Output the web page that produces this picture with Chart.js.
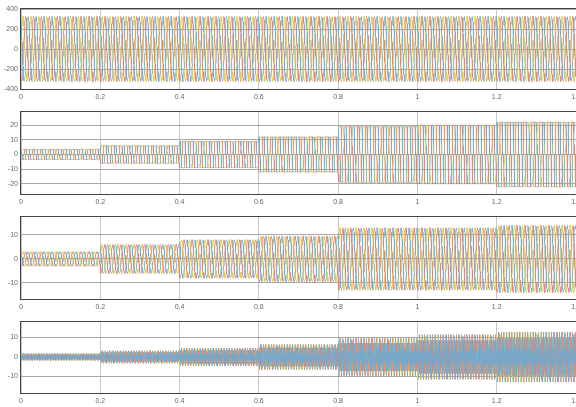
<!DOCTYPE html>
<html>
<head>
<meta charset="utf-8">
<script src="https://cdn.jsdelivr.net/npm/chart.js@4"></script>
<style>
  body { margin: 0; background: #fff; width: 576px; height: 407px; overflow: hidden; position: relative; }
  canvas { position: absolute; left: 0; }
</style>
</head>
<body>
<canvas id="c1" width="576"></canvas>
<canvas id="c2" width="576"></canvas>
<canvas id="c3" width="576"></canvas>
<canvas id="c4" width="576"></canvas>
<script>
// values
const freq = 50;                                   // ~10 cycles per 0.2 s
const segEdges = [0, 0.2, 0.4, 0.6, 0.8, 1.0, 1.2, 1.4];
const voltAmp = [325, 325, 325, 325, 325, 325, 325];
const loadAmp = [3.5, 6, 9, 12, 19, 20, 22];
const srcAmp = [3, 6, 8, 9.5, 13, 13, 14];
const compAmp = [2, 3.5, 5, 7, 10.5, 12.5, 14];
const phaseDeg = [120, -120, 0];
const phaseColors = ["rgba(95,175,222,0.6)", "rgba(232,128,120,0.7)", "rgba(230,208,70,0.8)"];

const xTicks = [0, 0.2, 0.4, 0.6, 0.8, 1, 1.2, 1.4];
const yTicks1 = [-400, -200, 0, 200, 400];
const yTicks2 = [-20, -10, 0, 10, 20];
const yTicks3 = [-10, 0, 10];
const yTicks4 = [-10, 0, 10];

// unit waveform shapes
const sine = (th) => Math.sin(th);
const blockRamp = (th, r) => {
  // 120 degree conduction blocks, as drawn by a rectifier load
  let a = ((th * 180) / Math.PI) % 360;
  if (a < 0) a += 360;
  let sign = 1;
  if (a >= 180) { a -= 180; sign = -1; }
  const up = Math.min(Math.max((a - 30) / r + 0.5, 0), 1);
  const down = Math.min(Math.max((150 - a) / r + 0.5, 0), 1);
  return sign * up * down;
};
const block = (th) => blockRamp(th, 10);
const comp = (th) => (blockRamp(th, 22) - 1.1 * Math.sin(th)) / 0.36;

function ampAt(t, amps) {
  for (let i = 0; i < amps.length; i++) {
    if (t < segEdges[i + 1]) return amps[i];
  }
  return amps[amps.length - 1];
}

function buildSeries(amps, shape) {
  const tEnd = segEdges[segEdges.length - 1];
  const n = Math.round(tEnd * freq * 90);
  return phaseDeg.map((ph, k) => {
    const pts = [];
    for (let i = 0; i <= n; i++) {
      const t = (i / n) * tEnd;
      const th = 2 * Math.PI * freq * t + (ph * Math.PI) / 180;
      pts.push({ x: t, y: ampAt(t, amps) * shape(th) });
    }
    return {
      data: pts,
      borderColor: phaseColors[k],
      borderWidth: 1,
      pointRadius: 0,
      fill: false,
      tension: 0,
    };
  });
}

const framePlugin = {
  id: "frame",
  afterDraw(chart) {
    const a = chart.chartArea;
    const ctx = chart.ctx;
    ctx.save();
    ctx.strokeStyle = "#444";
    ctx.lineWidth = 1;
    ctx.strokeRect(a.left - 0.5, a.top - 0.5, a.right - a.left + 1, a.bottom - a.top + 1);
    ctx.restore();
  },
};

function makePanel(id, top, plotH, yMin, yMax, yTicks, amps, shape) {
  const cv = document.getElementById(id);
  cv.height = plotH + 9 + 13;
  cv.style.top = top + "px";
  new Chart(cv.getContext("2d"), {
    type: "line",
    data: { datasets: buildSeries(amps, shape) },
    options: {
      responsive: false,
      animation: false,
      parsing: false,
      normalized: true,
      events: [],
      layout: { padding: { top: 9, left: 0, right: 0, bottom: 0 } },
      plugins: { legend: { display: false }, tooltip: { enabled: false } },
      scales: {
        x: {
          type: "linear",
          min: 0,
          max: 1.4,
          z: 1,
          afterBuildTicks: (s) => { s.ticks = xTicks.map((v) => ({ value: v })); },
          afterFit: (s) => { s.height = 13; s.paddingLeft = 0; s.paddingRight = 0; },
          grid: { color: "#c8c8c8", drawTicks: false },
          border: { display: false },
          ticks: {
            color: "#666",
            font: { family: "Liberation Sans", size: 7 },
            padding: 4,
            maxRotation: 0,
            autoSkip: false,
            callback: (v) => String(Math.round(v * 10) / 10),
          },
        },
        y: {
          type: "linear",
          min: yMin,
          max: yMax,
          z: 1,
          afterBuildTicks: (s) => { s.ticks = yTicks.map((v) => ({ value: v })); },
          afterFit: (s) => { s.width = 21; },
          grid: { color: "#a8a8a8", drawTicks: false },
          border: { display: false },
          ticks: {
            color: "#666",
            font: { family: "Liberation Sans", size: 7 },
            padding: 3,
            autoSkip: false,
          },
        },
      },
    },
    plugins: [framePlugin],
  });
}

makePanel("c1", 0, 80, -400, 400, yTicks1, voltAmp, sine);
makePanel("c2", 103, 82, -27, 29, yTicks2, loadAmp, block);
makePanel("c3", 208, 82, -16.7, 17.5, yTicks3, srcAmp, sine);
makePanel("c4", 313, 71, -18.5, 18, yTicks4, compAmp, comp);
</script>
</body>
</html>
